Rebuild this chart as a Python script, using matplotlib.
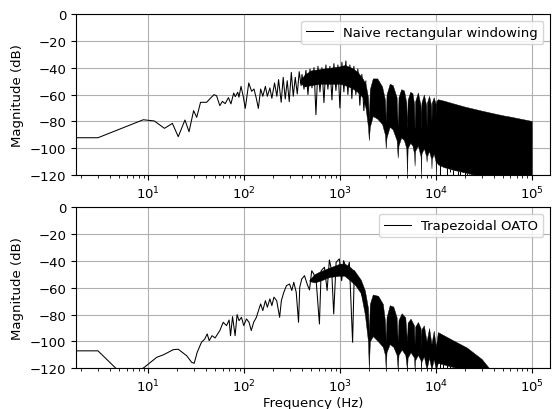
import matplotlib.pyplot as plt
import numpy as np

plt.rcParams['font.size'] = 9.5

# Naive rectangular windowing: trace read point by point
rect_f = [0, 3.0, 8.9, 11.6, 14.8, 17.9, 20.6, 24.2, 26.7, 29.8, 32.1, 35.2, 40.7,
          48.5, 51.7, 55.9, 59.5, 63.5, 68.8, 73, 78, 81, 86, 88.5, 93, 98, 103,
          112, 120, 127, 134, 141, 149, 157, 167, 175, 186, 195, 208, 220, 229,
          244, 256, 269, 282, 296, 311, 326, 342, 359, 376, 394,
          402, 422, 442, 464, 487, 511, 536, 562, 590, 619, 649, 681, 714, 749,
          786, 825, 865, 908, 952, 999, 1048, 1099, 1153, 1210, 1269, 1331, 1397,
          1465, 1537, 1613, 1692, 1775, 1862]
rect_db = [-92.2, -92.2, -78.8, -79.7, -85.2, -81.5, -91.4, -79, -87.7, -72, -77,
           -65.8, -65.8, -60.1, -60.9, -68.3, -65.1, -66.8, -62.3, -67, -58.9,
           -61.6, -58.3, -62, -53.9, -61.3, -70.3, -51.4, -57.6, -55.9, -62.6,
           -70.3, -55.9, -61.3, -53.9, -61.3, -55.1, -62.8, -51.4, -61.3, -48.9,
           -65.8, -47.2, -63.3, -49.7, -65.3, -43.5, -61.3, -47.2, -59.6, -43, -53.4,
           -45, -56, -42, -60, -41, -55, -40, -75, -39, -58, -40, -66, -38, -56,
           -39, -64, -37, -57, -38, -70, -36, -58, -35, -60, -38, -63, -39,
           -60, -41, -68, -45, -72, -50]

# dense part: upper and lower edge of the black band
rect_band_f = [380, 430, 500, 620, 790, 1000, 1120, 1320, 1520, 1720, 1850, 1960,
               2000, 2050, 2200, 2450, 2750, 2950, 3000, 3060, 3300, 3550, 3900,
               4000, 4080, 4350, 4650, 4920, 5000, 5080, 5400, 5700, 5930, 6000,
               6080, 6500, 6930, 7000, 7080, 7500, 7930, 8000, 8080, 8500, 8930,
               9000, 9080, 9500, 9940, 10000, 10080, 10500, 12000, 15000, 20000,
               30000, 40000, 50000, 60000, 100000]
rect_band_hi = [-50, -45, -42, -41, -40, -39, -38, -40, -43, -48, -52, -62,
                -78, -56, -48, -48, -54, -64, -80, -60, -52, -53, -62,
                -84, -62, -56, -57, -66, -86, -64, -58, -59, -67, -86,
                -65, -58.5, -68, -86, -66, -60, -68, -84, -66, -61, -68,
                -80, -66, -62, -67, -76, -65, -63.5, -64.5, -66.5, -69,
                -72, -74, -75.5, -76.5, -79.7]
rect_band_lo = [-51, -54, -53, -52, -52, -52, -53, -55, -58, -62, -70, -84,
                -94, -84, -76, -78, -82, -90, -100, -92, -84, -86, -94,
                -107, -98, -92, -94, -100, -121, -100, -96, -98, -104, -113,
                -102, -98, -106, -121, -104, -100, -106, -110, -106, -102, -108,
                -115, -108, -104, -110, -121, -110, -112, -114, -116, -118,
                -121, -121, -121, -121, -121]

# nulls above 10 kHz
rect_dip_f = [11000, 12000, 13000, 14000, 15000, 16000, 17000, 18000, 19000, 20000,
              21000, 22000, 23000, 24000, 25000, 26000, 27000, 28000, 29000, 30000]
rect_dip_db = [-121, -114, -121, -118, -121, -112, -121, -121, -116, -121,
               -121, -119, -121, -121, -117, -121, -121, -121, -121, -121]

# Trapezoidal OATO
trap_f = [0, 3.0, 6.0, 9.0, 12.3, 14.4, 18.3, 20.6, 25.2, 28.4, 30.2, 32.5, 36, 39,
          41.3, 43.3, 46.4, 49.9, 55.9, 60.6, 65.7, 69.9, 72.3, 75.9, 80.7, 84.6,
          88.7, 94, 99.3, 106, 112.7, 119, 126, 134.6, 140, 149, 157, 167, 175,
          186, 195, 205, 219, 235, 245, 260, 277, 298, 315, 330, 350, 370, 381,
          400, 427, 455, 481, 508, 533, 565, 611, 637, 689, 735, 776, 820, 861,
          912, 986, 1042, 1093, 1186, 1253, 1355, 1412, 1528, 1630, 1765]
trap_db = [-107, -107, -128, -119.6, -111.8, -110, -106.1, -105.8, -110.6, -115.5,
           -116.3, -108, -100.6, -98.1, -94.4, -99.4, -95.7, -97.4, -91.9, -85.7,
           -88.2, -84, -95.7, -81.5, -95.7, -80, -84.5, -82, -88.2, -83.2, -85.7,
           -91.9, -85.7, -82, -78, -72, -77, -69.6, -74.5, -68.3, -73.3, -67,
           -69.6, -82, -69.6, -63.3, -58.4, -57.2, -62, -55.9, -63.3, -85.7, -59.6,
           -53.4, -51, -57.2, -61.6, -47.3, -49.7, -54.7, -87, -47.3, -44.7, -62,
           -39.3, -47.3, -79.5, -41, -38.5, -54.7, -39.8, -47.3, -41, -100.6,
           -47.3, -54.7, -60.9, -69.6]

trap_band_f = [480, 540, 610, 776, 1000, 1110, 1250, 1440, 1650, 1820, 1960, 2000,
               2050, 2200, 2500, 2800, 2950, 3000, 3060, 3300, 3600, 3900, 4000,
               4080, 4400, 4800, 5000, 5080, 5450, 5920, 6000, 6080, 6500, 6930,
               7000, 7080, 7500, 8000, 8500, 9000, 9500, 10000, 10500, 15000,
               21000, 30000, 37000]
trap_band_hi = [-54, -50, -48, -45, -42, -42, -44, -48, -54, -62, -75, -95,
                -72, -65, -66, -72, -85, -100, -82, -73, -74, -82, -100,
                -84, -79, -82, -100, -86, -83, -88, -102, -89, -85.5, -90,
                -104, -91, -88, -100, -90, -102, -92, -104, -93, -99,
                -104.5, -113, -121]
trap_band_lo = [-55, -56, -55, -52, -51, -51, -54, -58, -64, -80, -100, -121,
                -100, -96, -100, -104, -110, -121, -108, -102, -104, -110, -121,
                -110, -106, -110, -121, -112, -108, -112, -121, -114, -110, -114,
                -121, -115, -111, -121, -112, -121, -113, -121, -116, -119,
                -121, -121, -121]

trap_dip_f = [11000, 12000, 13000, 14000, 15000, 16000, 17000, 18000, 19000, 20000,
              21000, 22000, 23000, 24000, 25000, 26000, 27000, 28000, 29000, 30000]
trap_dip_db = [-121] * 20


def draw(ax, f, db, band_f, band_hi, band_lo, dip_f, dip_db, label):
    ax.fill_between(band_f, band_lo, band_hi, color='k', lw=0.3, zorder=2)
    top = np.interp(np.log10(dip_f), np.log10(band_f), band_lo)
    ax.vlines(dip_f, dip_db, top, color='k', lw=0.75, zorder=2)
    ax.plot(f, db, color='k', lw=0.75, label=label)
    ax.set_xscale('log')
    ax.set_xlim(1.77, 1.55e5)
    ax.set_ylim(-120, 0)
    ax.set_yticks([0, -20, -40, -60, -80, -100, -120])
    ax.set_ylabel('Magnitude (dB)')
    ax.grid()
    ax.legend(loc='upper right')


fig, (ax1, ax2) = plt.subplots(2, 1, figsize=(5.52, 4.10), dpi=100)
fig.subplots_adjust(left=0.1377, right=0.9964, top=0.9634, bottom=0.0993, hspace=0.2)

draw(ax1, rect_f, rect_db, rect_band_f, rect_band_hi, rect_band_lo,
     rect_dip_f, rect_dip_db, 'Naive rectangular windowing')
draw(ax2, trap_f, trap_db, trap_band_f, trap_band_hi, trap_band_lo,
     trap_dip_f, trap_dip_db, 'Trapezoidal OATO')
ax2.set_xlabel('Frequency (Hz)', labelpad=1)

fig.savefig('out.png', dpi=100)
